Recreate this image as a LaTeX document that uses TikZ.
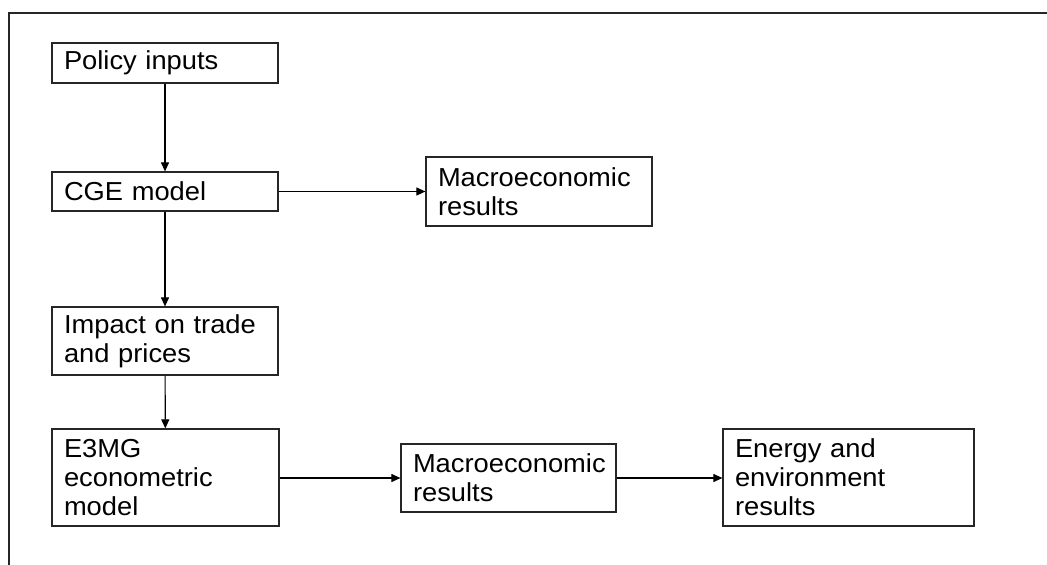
\documentclass[tikz,border=0pt]{standalone}
\usepackage{fontspec}
\setmainfont[FakeStretch=1.05]{Liberation Sans}
\usetikzlibrary{arrows.meta}
\hyphenpenalty=10000
\exhyphenpenalty=10000
\begin{document}
\begin{tikzpicture}[x=1pt,y=-1pt,
  box/.style={draw=black!85, line width=1.2pt, rectangle, inner xsep=12pt, inner ysep=0pt,
    align=left, font=\fontsize{26}{29}\selectfont},
  conn/.style={draw=black, line width=1.1pt, -{Triangle[length=9pt,width=8pt]}}]
\useasboundingbox (0,0) rectangle (1047,565);
\draw[line width=1.4pt, black!85] (1047,13) -- (9,13) -- (9,565);
\node[box, text width=202pt, minimum width=226pt, minimum height=40pt] (pol) at (165,63) {Policy inputs};
\node[box, text width=202pt, minimum width=226pt, minimum height=39pt] (cge) at (165,191.5) {CGE model};
\node[box, text width=202pt, minimum width=226pt, minimum height=69pt] (mac1) at (539,191.5) {Macroeconomic\\results};
\node[box, text width=202pt, minimum width=226pt, minimum height=68pt] (imp) at (165,341) {Impact on trade\\and prices};
\node[box, text width=203pt, minimum width=227pt, minimum height=97pt] (e3) at (165.5,477.5) {E3MG\\econometric\\model};
\node[box, text width=191pt, minimum width=215pt, minimum height=68pt] (mac2) at (508.5,478) {Macroeconomic\\results};
\node[box, text width=227pt, minimum width=251pt, minimum height=97pt] (en) at (848.5,477.5) {Energy and\\environment\\results};
\draw[conn] (pol) -- (cge);
\draw[conn] (cge) -- (imp);
\draw[conn] (imp) -- (e3);
\draw[conn] (cge) -- (mac1);
\draw[conn] (e3.east |- mac2) -- (mac2);
\draw[conn] (mac2) -- (en.west |- mac2);
\end{tikzpicture}
\end{document}
